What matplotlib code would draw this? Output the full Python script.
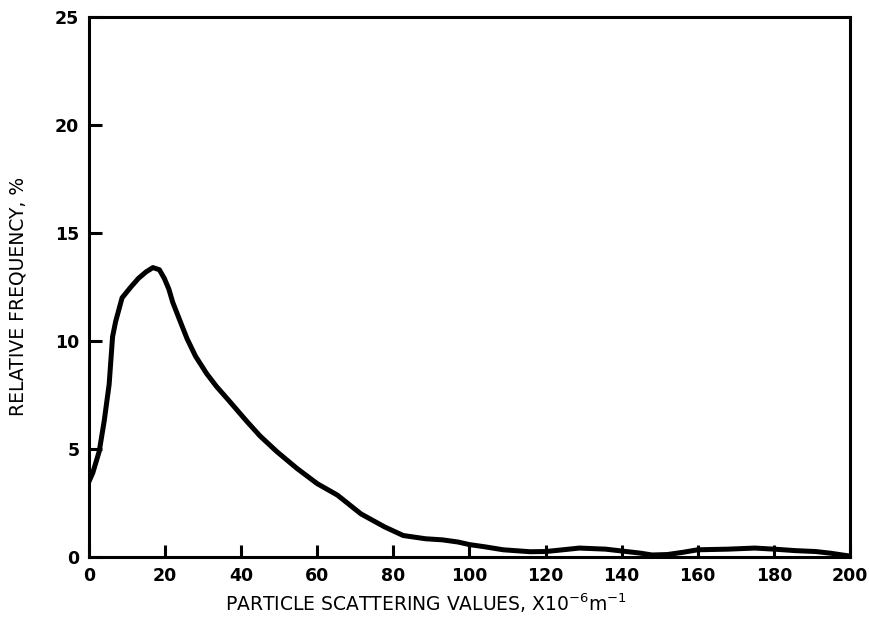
import numpy as np
import matplotlib.pyplot as plt

# particle scattering values (x1e-6 m^-1) and relative frequency (%)
scatter_vals = [0, 1, 2.7, 4, 5.3, 6.2, 7, 8.7, 11, 13, 15, 16.8, 18.5, 19.8, 21, 22,
                24, 25.8, 28, 30.9, 33.5, 36.5, 41.5, 45, 49.4, 54.7, 60, 65.3, 71.5,
                77.7, 82.6, 88.5, 92.9, 97, 100, 104, 108.9, 116, 120, 124, 128.9,
                135.8, 141.2, 144.7, 148, 152, 156, 160, 168, 175, 180, 185.8, 191,
                195, 198, 200]
rel_freq = [3.5, 3.9, 4.9, 6.3, 8.0, 10.2, 10.9, 12.0, 12.5, 12.9, 13.2, 13.4, 13.3,
            12.9, 12.4, 11.8, 10.9, 10.1, 9.3, 8.5, 7.9, 7.3, 6.28, 5.6, 4.88, 4.1,
            3.4, 2.87, 2.0, 1.4, 1.0, 0.85, 0.8, 0.7, 0.58, 0.48, 0.34, 0.25, 0.26,
            0.33, 0.42, 0.37, 0.26, 0.19, 0.1, 0.12, 0.22, 0.34, 0.37, 0.42, 0.37,
            0.3, 0.26, 0.18, 0.1, 0.05]

x_ticks = [0, 20, 40, 60, 80, 100, 120, 140, 160, 180, 200]
y_ticks = [0, 5, 10, 15, 20, 25]

plt.rcParams['font.family'] = ['DejaVu Sans']

fig = plt.figure(figsize=(8.69, 6.26), dpi=100)
ax = fig.add_axes([0.1024, 0.110, 0.8756, 0.863])

ax.plot(scatter_vals, rel_freq, color='black', linewidth=3.6, solid_capstyle='round')

ax.set_xlim(0, 200)
ax.set_ylim(0, 25)
ax.set_xticks(x_ticks)
ax.set_yticks(y_ticks)
ax.tick_params(direction='in', length=9, width=2.2, labelsize=12.5, pad=7)
for lab in ax.get_xticklabels() + ax.get_yticklabels():
    lab.set_fontweight('bold')
for side in ax.spines.values():
    side.set_linewidth(2.2)

fig.text(0.49, 0.036, r'PARTICLE SCATTERING VALUES, X10$^{-6}$m$^{-1}$',
         ha='center', va='center', fontsize=13.5)
fig.text(0.021, 0.527, 'RELATIVE FREQUENCY, %', rotation=90,
         ha='center', va='center', fontsize=13.5)

fig.savefig('out.png', dpi=100)
